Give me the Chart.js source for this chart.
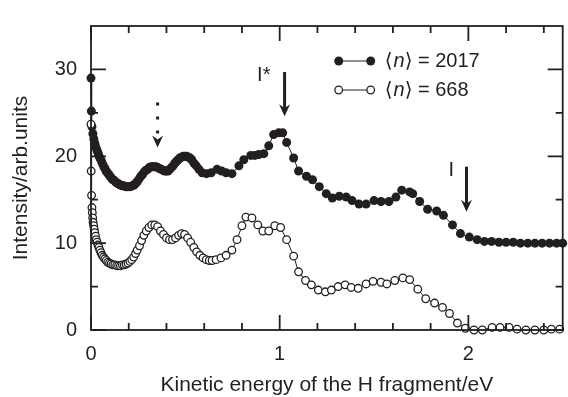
<!DOCTYPE html>
<html><head><meta charset="utf-8">
<script src="https://cdn.jsdelivr.net/npm/chart.js@4"></script>
<style>html,body{margin:0;padding:0;background:#fff}#wrap{width:568px;height:397px}</style>
</head><body><div id="wrap"><canvas id="c" width="568" height="397"></canvas></div>
<script>
// ---- data ----
const energyFilled = [0.000,0.002,0.005,0.010,0.015,0.020,0.025,0.030,0.035,0.040,0.045,0.050,0.056,0.062,0.068,0.074,0.080,0.087,0.094,0.101,0.108,0.116,0.124,0.132,0.140,0.148,0.156,0.165,0.174,0.183,0.192,0.201,0.210,0.219,0.228,0.237,0.246,0.255,0.264,0.273,0.282,0.291,0.300,0.309,0.318,0.327,0.336,0.345,0.354,0.363,0.372,0.381,0.390,0.399,0.408,0.417,0.426,0.435,0.444,0.453,0.462,0.471,0.480,0.489,0.498,0.507,0.516,0.525,0.534,0.546,0.558,0.572,0.589,0.612,0.637,0.668,0.692,0.716,0.747,0.784,0.810,0.847,0.868,0.889,0.916,0.942,0.968,0.995,1.016,1.037,1.074,1.100,1.142,1.174,1.210,1.247,1.279,1.316,1.353,1.384,1.421,1.458,1.500,1.537,1.579,1.616,1.647,1.689,1.705,1.742,1.784,1.832,1.868,1.916,1.958,2.005,2.047,2.085,2.123,2.162,2.200,2.238,2.276,2.315,2.353,2.391,2.430,2.468,2.500];
const intensityFilled = [29.0,25.2,23.4,22.6,22.0,21.5,21.1,20.8,20.5,20.2,19.9,19.7,19.4,19.1,18.8,18.6,18.3,18.1,17.9,17.7,17.5,17.3,17.2,17.0,16.9,16.8,16.7,16.6,16.6,16.5,16.5,16.5,16.5,16.6,16.7,16.9,17.1,17.4,17.7,17.9,18.2,18.4,18.5,18.7,18.8,18.8,18.8,18.8,18.7,18.6,18.5,18.4,18.3,18.3,18.3,18.5,18.7,18.9,19.2,19.4,19.6,19.8,19.9,20.0,20.0,20.0,19.9,19.8,19.6,19.2,18.9,18.5,18.1,18.0,18.1,18.5,18.3,18.1,18.0,18.9,19.6,20.1,20.1,20.2,20.3,21.2,22.5,22.7,22.7,21.6,19.8,18.3,17.7,17.3,16.5,15.7,15.2,15.4,15.3,14.9,14.5,14.5,14.9,14.8,14.8,15.3,16.1,15.9,15.7,14.8,13.9,13.7,13.2,12.1,11.1,10.7,10.4,10.2,10.2,10.1,10.1,10.1,10.0,10.0,10.0,10.0,10.0,10.0,10.0];

const energyOpen = [0.000,0.001,0.003,0.005,0.007,0.009,0.011,0.014,0.017,0.020,0.024,0.028,0.032,0.037,0.042,0.047,0.053,0.059,0.066,0.073,0.081,0.089,0.098,0.107,0.116,0.126,0.136,0.146,0.156,0.166,0.176,0.186,0.196,0.206,0.216,0.226,0.236,0.245,0.257,0.268,0.280,0.293,0.307,0.322,0.338,0.353,0.368,0.384,0.400,0.416,0.432,0.448,0.464,0.480,0.496,0.512,0.528,0.545,0.560,0.577,0.594,0.611,0.627,0.642,0.663,0.689,0.716,0.747,0.774,0.800,0.821,0.853,0.884,0.911,0.942,0.974,1.005,1.037,1.074,1.100,1.137,1.168,1.205,1.242,1.274,1.310,1.347,1.379,1.416,1.458,1.495,1.537,1.568,1.610,1.653,1.689,1.732,1.774,1.821,1.863,1.900,1.942,1.984,2.030,2.074,2.126,2.168,2.216,2.258,2.305,2.353,2.400,2.440,2.484];
const intensityOpen = [23.7,18.3,15.5,14.1,13.5,12.9,12.4,12.0,11.6,11.2,10.8,10.4,10.1,9.8,9.5,9.2,8.9,8.6,8.4,8.2,8.0,7.8,7.7,7.6,7.5,7.5,7.4,7.4,7.4,7.5,7.5,7.6,7.7,7.9,8.1,8.4,8.8,9.2,9.7,10.3,10.9,11.4,11.8,12.1,12.1,11.9,11.4,11.0,10.6,10.4,10.4,10.6,10.9,11.1,11.0,10.6,10.1,9.5,9.0,8.6,8.3,8.1,8.0,8.0,8.1,8.3,8.6,9.2,10.4,12.0,13.0,12.9,12.1,11.4,11.4,12.0,11.8,10.4,8.5,6.7,5.7,5.2,4.6,4.4,4.6,5.0,5.2,4.9,4.8,5.3,5.6,5.5,5.3,5.7,6.0,5.8,4.7,3.6,3.1,2.6,1.9,0.8,0.2,0.0,0.0,0.3,0.3,0.3,0.1,0.0,0.0,0.0,0.1,0.1];

const seriesLabels = ['2017', '668'];
const xTicks = [0, 1, 2];
const xMinorTicks = [0.2,0.4,0.6,0.8,1.2,1.4,1.6,1.8,2.2,2.4];
const yTicks = [0, 10, 20, 30];
const yMinorTicks = [5, 15, 25];
const arrowX = [0.353, 1.026, 1.99];
const arrowTop = [26.2, 29.7, 18.8];
const arrowTip = [21.0, 24.6, 13.6];
const arrowLabels = ['', 'I*', 'I'];
const xTitle = 'Kinetic energy of the H fragment/eV';
const yTitle = 'Intensity/arb.units';

// ---- drawing ----
const INK = '#231f20';
const FONT = '"Liberation Sans", Arial, "DejaVu Sans", sans-serif';

const toXY = (xs, ys) => xs.map((x, i) => ({x, y: ys[i]}));

const framePlugin = {
  id: 'frame',
  afterDatasetsDraw(chart) {
    const {ctx, chartArea: a, scales: {x, y}} = chart;
    ctx.save();
    ctx.strokeStyle = INK;
    ctx.lineWidth = 1.8;
    ctx.strokeRect(a.left, a.top, a.right - a.left, a.bottom - a.top);
    const major = 15, minor = 7;
    ctx.beginPath();
    const xt = (v, len) => {
      const px = x.getPixelForValue(v);
      ctx.moveTo(px, a.bottom); ctx.lineTo(px, a.bottom - len);
      ctx.moveTo(px, a.top); ctx.lineTo(px, a.top + len);
    };
    const yt = (v, len) => {
      const py = y.getPixelForValue(v);
      ctx.moveTo(a.left, py); ctx.lineTo(a.left + len, py);
      ctx.moveTo(a.right, py); ctx.lineTo(a.right - len, py);
    };
    xTicks.forEach(v => xt(v, major));
    xMinorTicks.forEach(v => xt(v, minor));
    yTicks.forEach(v => yt(v, major));
    yMinorTicks.forEach(v => yt(v, minor));
    ctx.stroke();

    // arrows
    arrowX.forEach((ev, i) => {
      const px = x.getPixelForValue(ev);
      const top = y.getPixelForValue(arrowTop[i]);
      const tip = y.getPixelForValue(arrowTip[i]);
      const headLen = 12, headW = 5.5, notch = 8;
      ctx.fillStyle = INK;
      ctx.strokeStyle = INK;
      ctx.lineWidth = 3;
      if (i === 0) ctx.setLineDash([3, 11]);
      ctx.beginPath(); ctx.moveTo(px, top); ctx.lineTo(px, tip - notch); ctx.stroke();
      ctx.setLineDash([]);
      ctx.beginPath();
      ctx.moveTo(px, tip);
      ctx.lineTo(px - headW, tip - headLen);
      ctx.lineTo(px, tip - notch);
      ctx.lineTo(px + headW, tip - headLen);
      ctx.closePath();
      ctx.fill();
      if (arrowLabels[i]) {
        ctx.font = '20px ' + FONT;
        ctx.textAlign = 'left';
        ctx.textBaseline = 'alphabetic';
        ctx.fillText(arrowLabels[i], px - (i === 1 ? 27.5 : 18), top + 9);
      }
    });

    // legend
    const lx0 = a.right - 224, lx1 = a.right - 192, tx = a.right - 178;
    const rows = [a.top + 35, a.top + 64];
    rows.forEach((ry, i) => {
      ctx.lineWidth = 1;
      ctx.strokeStyle = INK;
      ctx.beginPath(); ctx.moveTo(lx0, ry); ctx.lineTo(lx1, ry); ctx.stroke();
      [lx0, lx1].forEach(mx => {
        ctx.beginPath();
        if (i === 0) { ctx.arc(mx, ry, 4.5, 0, Math.PI * 2); ctx.fillStyle = INK; ctx.fill(); }
        else { ctx.arc(mx, ry, 3.8, 0, Math.PI * 2); ctx.fillStyle = '#fff'; ctx.fill(); ctx.lineWidth = 1.3; ctx.stroke(); }
      });
      ctx.fillStyle = INK;
      ctx.textAlign = 'left';
      ctx.textBaseline = 'middle';
      let cx = tx;
      ctx.font = '20px ' + FONT;
      ctx.fillText('\u27E8', cx, ry); cx += ctx.measureText('\u27E8').width + 1;
      ctx.font = 'italic 20px ' + FONT;
      ctx.fillText('n', cx, ry); cx += ctx.measureText('n').width;
      ctx.font = '20px ' + FONT;
      ctx.fillText('\u27E9 = ' + seriesLabels[i], cx, ry);
    });
    ctx.restore();
  }
};

new Chart(document.getElementById('c'), {
  type: 'line',
  data: {
    datasets: [
      {
        label: seriesLabels[1],
        data: toXY(energyOpen, intensityOpen),
        borderColor: INK, borderWidth: 1,
        pointRadius: 3.8, pointBackgroundColor: '#fff', pointBorderColor: INK, pointBorderWidth: 1.3,
        tension: 0, clip: false
      },
      {
        label: seriesLabels[0],
        data: toXY(energyFilled, intensityFilled),
        borderColor: INK, borderWidth: 1,
        pointRadius: 4.5, pointBackgroundColor: INK, pointBorderColor: INK, pointBorderWidth: 0,
        tension: 0, clip: false
      }
    ]
  },
  options: {
    responsive: false, animation: false, devicePixelRatio: 1,
    layout: {padding: {left: 0, right: 2, top: 13, bottom: 0}},
    plugins: {legend: {display: false}, tooltip: {enabled: false}},
    scales: {
      x: {
        type: 'linear', min: 0, max: 2.5,
        afterBuildTicks: s => { s.ticks = xTicks.map(v => ({value: v})); },
        afterFit: s => { s.height = 67; },
        grid: {display: false, drawTicks: false},
        border: {display: false},
        ticks: {color: INK, font: {family: FONT, size: 20}, padding: 12, maxRotation: 0, autoSkip: false},
        title: {display: true, text: xTitle, color: INK, font: {family: FONT, size: 21, lineHeight: 1}, padding: {top: 0, bottom: 1}}
      },
      y: {
        min: 0, max: 35,
        afterBuildTicks: s => { s.ticks = yTicks.map(v => ({value: v})); },
        afterFit: s => { s.width = 91; },
        grid: {display: false, drawTicks: false},
        border: {display: false},
        ticks: {color: INK, font: {family: FONT, size: 20}, padding: 14, autoSkip: false},
        title: {display: true, text: yTitle, color: INK, font: {family: FONT, size: 21, lineHeight: 1}, padding: {top: 11, bottom: 0}}
      }
    }
  },
  plugins: [framePlugin]
});
</script>
</body></html>
